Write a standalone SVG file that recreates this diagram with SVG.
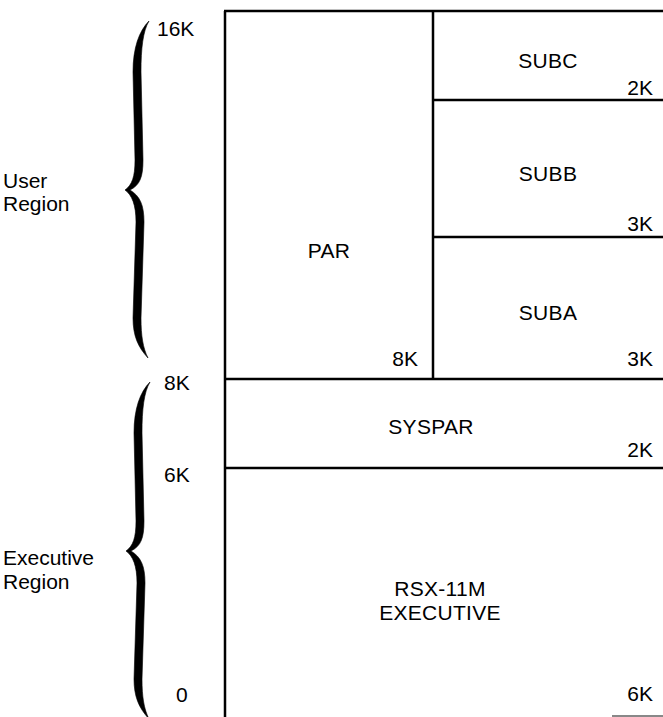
<svg xmlns="http://www.w3.org/2000/svg" width="663" height="717" viewBox="0 0 663 717">
<style>
text{font-family:"Liberation Sans",Arial,Helvetica,sans-serif;font-size:21px;fill:#000}
.c{text-anchor:middle;letter-spacing:0.3px}
.r{text-anchor:end}
.ln{stroke:#000;stroke-width:2.5;fill:none}
.br{fill:#000;stroke:#000;stroke-width:0.6}
</style>
<defs>
<path id="brace" d="M149,21 C139,31 133,48 133,72 L135,160 C135,177 132,185 125,190 C132,195 136,205 136,222 L133,318 C133,336 138,347 148,358 C143,348 141,336 141,318 L144,222 C144,205 140,196 130,190 C140,185 143,177 143,160 L141,72 C141,48 143,31 149,21 Z"/>
</defs>
<g id="connectors">
<line class="ln" x1="225" y1="11" x2="225" y2="717"/>
<line class="ln" x1="224" y1="11" x2="663" y2="11"/>
<line class="ln" x1="433" y1="11" x2="433" y2="379"/>
<line class="ln" x1="433" y1="100" x2="663" y2="100"/>
<line class="ln" x1="433" y1="237" x2="663" y2="237"/>
<line class="ln" x1="225" y1="379" x2="663" y2="379"/>
<line class="ln" x1="225" y1="468" x2="663" y2="468"/>
<line x1="612" y1="716" x2="663" y2="716" stroke="#888" stroke-width="2"/>
</g>
<g id="user-brace">
<use href="#brace" class="br"/>
<text x="157" y="36">16K</text>
<text x="3" y="188">User</text>
<text x="3" y="211">Region</text>
</g>
<g id="exec-brace">
<use href="#brace" class="br" transform="translate(1,361)"/>
<text x="164" y="390">8K</text>
<text x="164" y="482">6K</text>
<text x="176" y="702">0</text>
<text x="3" y="565">Executive</text>
<text x="3" y="589">Region</text>
</g>
<g id="SUBC">
<text class="c" x="548" y="68">SUBC</text>
<text class="r" x="653" y="95">2K</text>
</g>
<g id="SUBB">
<text class="c" x="548" y="181">SUBB</text>
<text class="r" x="653" y="231">3K</text>
</g>
<g id="SUBA">
<text class="c" x="548" y="320">SUBA</text>
<text class="r" x="653" y="366">3K</text>
</g>
<g id="PAR">
<text class="c" x="329" y="258">PAR</text>
<text class="r" x="418" y="366">8K</text>
</g>
<g id="SYSPAR">
<text class="c" x="431" y="434">SYSPAR</text>
<text class="r" x="653" y="457">2K</text>
</g>
<g id="EXECUTIVE">
<text class="c" x="440" y="596">RSX-11M</text>
<text class="c" x="440" y="620">EXECUTIVE</text>
<text class="r" x="653" y="701">6K</text>
</g>
</svg>
